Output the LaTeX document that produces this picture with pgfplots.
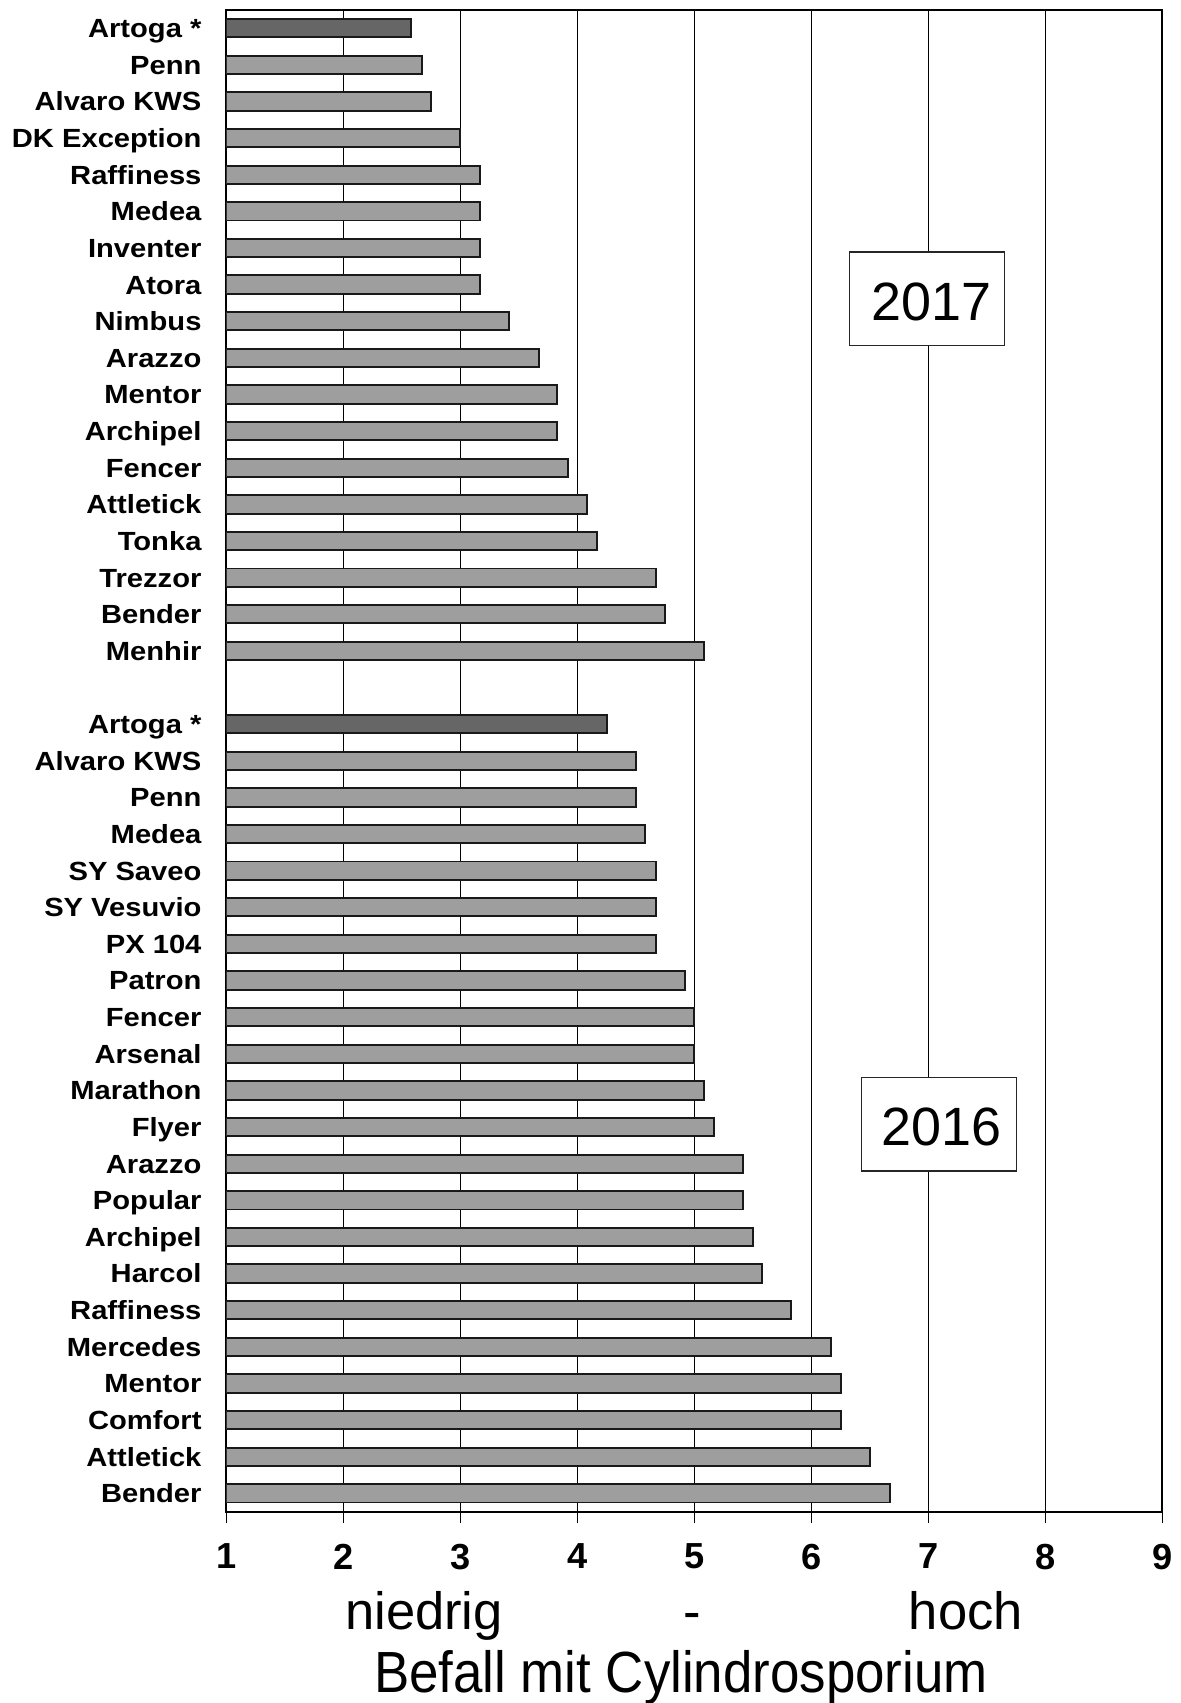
\documentclass[border=0pt]{standalone}
\usepackage{pgfplots}
\pgfplotsset{compat=1.18}
\usepackage{pgfplotstable}
\usepackage{fontspec}
\setmainfont{Liberation Sans}
\newfontfamily\labfont[FakeStretch=1.11]{Liberation Sans}
\newfontfamily\befallfont[FakeStretch=0.91]{Liberation Sans}

\definecolor{barlight}{RGB}{158,158,158}
\definecolor{bardark}{RGB}{102,102,102}

% position (40 = top row) and infestation score
\pgfplotstableread{
pos val
39 2.67
38 2.75
37 3.00
36 3.17
35 3.17
34 3.17
33 3.17
32 3.42
31 3.67
30 3.83
29 3.83
28 3.92
27 4.08
26 4.17
25 4.67
24 4.75
23 5.08
20 4.50
19 4.50
18 4.58
17 4.67
16 4.67
15 4.67
14 4.92
13 5.00
12 5.00
11 5.08
10 5.17
9 5.42
8 5.42
7 5.50
6 5.58
5 5.83
4 6.17
3 6.25
2 6.25
1 6.50
0 6.67
}\sorten

\pgfplotstableread{
pos val
40 2.58
21 4.25
}\artoga

\begin{document}
\begin{tikzpicture}
\useasboundingbox (0,0) rectangle (15cm,21.648cm);
\begin{axis}[
    at={(2.877cm,2.432cm)}, anchor=south west,
    scale only axis,
    width=11.898cm, height=19.09cm,
    xmin=1, xmax=9, ymin=-0.5, ymax=40.5,
    xbar, bar width=0.5, bar shift=0pt,
    clip mode=individual,
    xtick={1,...,9},
    xtick pos=bottom, tick align=outside,
    major tick length=0.14cm,
    xtick style={black, line width=0.35pt},
    xmajorgrids,
    grid style={black, line width=0.35pt},
    axis line style={black, line width=0.8pt},
    /pgf/number format/assume math mode=true,
    xticklabel style={font=\bfseries\fontsize{13.1}{14}\selectfont,
        anchor=north, inner sep=0pt, yshift=-0.262cm},
    ytick={0,1,2,3,4,5,6,7,8,9,10,11,12,13,14,15,16,17,18,19,20,21,
        23,24,25,26,27,28,29,30,31,32,33,34,35,36,37,38,39,40},
    yticklabels={Bender, Attletick, Comfort, Mentor, Mercedes, Raffiness,
        Harcol, Archipel, Popular, Arazzo, Flyer, Marathon, Arsenal, Fencer,
        Patron, PX 104, SY Vesuvio, SY Saveo, Medea, Penn, Alvaro KWS, Artoga *,
        Menhir, Bender, Trezzor, Tonka, Attletick, Fencer, Archipel, Mentor,
        Arazzo, Nimbus, Atora, Inventer, Medea, Raffiness, DK Exception,
        Alvaro KWS, Penn, Artoga *},
    ytick style={draw=none},
    yticklabel style={font=\labfont\bfseries\fontsize{9.5}{10.5}\selectfont,
        anchor=base east, inner sep=0pt, xshift=-0.169cm, yshift=-3.4pt},
    ]
    \addplot[fill=barlight, draw=black!90, line width=0.7pt]
        table[x=val, y=pos] {\sorten};
    \addplot[fill=bardark, draw=black!90, line width=0.7pt]
        table[x=val, y=pos] {\artoga};

    \node[draw=black!85, fill=white, line width=0.6pt,
        minimum width=1.97cm, minimum height=1.187cm] at (axis cs:6.99,32.61) {};
    \node[font=\fontsize{19.5}{21}\selectfont, yshift=-0.04cm]
        at (axis cs:7.03,32.61) {2017};
    \node[draw=black!85, fill=white, line width=0.6pt,
        minimum width=1.97cm, minimum height=1.187cm] at (axis cs:7.09,10.08) {};
    \node[font=\fontsize{19.5}{21}\selectfont, yshift=-0.04cm]
        at (axis cs:7.115,10.08) {2016};

    \node[anchor=base, font=\fontsize{19}{21}\selectfont, yshift=-1.504cm]
        at (axis cs:2.69,-0.5) {niedrig};
    \node[anchor=base, font=\fontsize{19}{21}\selectfont, yshift=-1.504cm]
        at (axis cs:4.98,-0.5) {-};
    \node[anchor=base, font=\fontsize{19}{21}\selectfont, yshift=-1.504cm]
        at (axis cs:7.32,-0.5) {hoch};
    \node[anchor=base, font=\befallfont\fontsize{21}{23}\selectfont, yshift=-2.301cm]
        at (axis cs:4.885,-0.5) {Befall mit Cylindrosporium};
\end{axis}
\end{tikzpicture}
\end{document}
